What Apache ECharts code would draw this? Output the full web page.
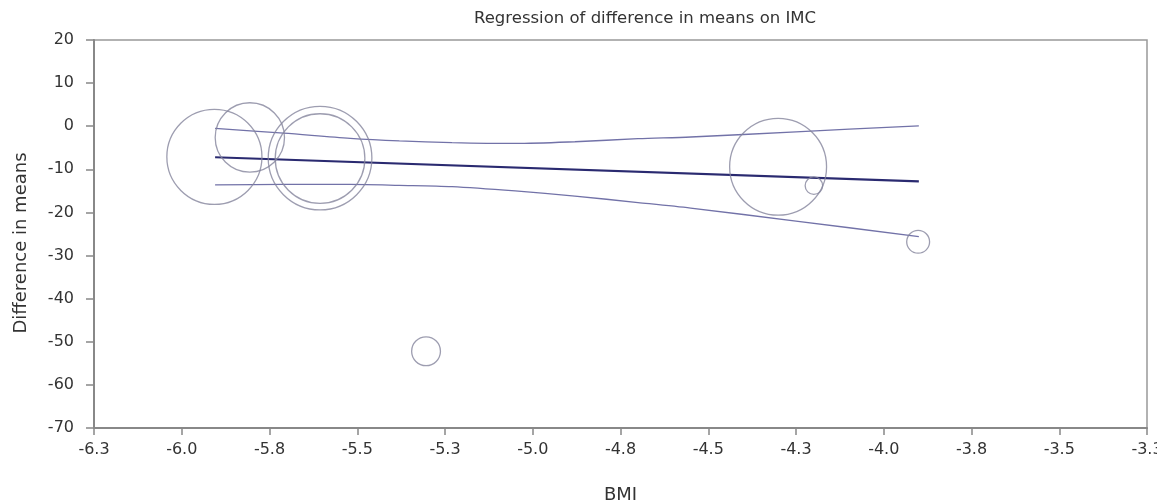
<!DOCTYPE html>
<html>
<head>
<meta charset="utf-8">
<script src="https://cdn.jsdelivr.net/npm/echarts@6/dist/echarts.min.js"></script>
<style>
  html, body { margin: 0; padding: 0; background: #fff; }
  #chart { width: 1157px; height: 504px; }
</style>
</head>
<body>
<div id="chart"></div>
<script>
// studies: BMI, difference in means, relative weight (%)
var studyBmi = [-5.907, -5.806, -5.606, -5.606, -5.304, -4.301, -4.199, -3.902];
var studyDiff = [-7.1, -2.6, -7.4, -7.5, -52.2, -9.4, -13.8, -26.8];
var studyWeight = [20.7, 11.0, 24.6, 18.4, 1.9, 21.5, 0.7, 1.2];

// regression line ends
var regBmi = [-5.905, -3.900];
var regDiff = [-7.2, -12.8];

// confidence band
var ciBmi = [-5.905, -5.71, -5.52, -5.38, -5.23, -5.05, -4.88, -4.70, -4.55, -4.25, -3.90];
var ciUpper = [-0.5, -1.6, -2.8, -3.4, -3.8, -4.0, -3.6, -2.9, -2.5, -1.3, 0.1];
var ciLower = [-13.6, -13.5, -13.5, -13.7, -14.0, -15.0, -16.2, -17.7, -19.0, -22.0, -25.6];

function pairs(xs, ys) {
  return xs.map(function (x, i) { return [x, ys[i]]; });
}

var chart = echarts.init(document.getElementById("chart"));
var font = "DejaVu Sans, Verdana, sans-serif";

var option = {
  animation: false,
  title: {
    text: "Regression of difference in means on IMC",
    left: 474,
    top: 10,
    padding: 0,
    textStyle: { fontFamily: font, fontSize: 16.5, fontWeight: "normal", color: "#333" }
  },
  grid: {
    left: 94, right: 10, top: 40, bottom: 76,
    outerBoundsMode: "none",
    containLabel: false,
    show: true, borderColor: "#999", borderWidth: 1.5, backgroundColor: "transparent"
  },
  xAxis: {
    type: "value",
    min: -6.25, max: -3.25, interval: 0.25,
    name: "BMI",
    nameLocation: "middle",
    nameGap: 58,
    nameTextStyle: { fontFamily: font, fontSize: 18, color: "#333" },
    axisLine: { onZero: false, lineStyle: { color: "#888", width: 2 } },
    axisTick: { show: true, length: 7, lineStyle: { color: "#888", width: 1.5 } },
    axisLabel: {
      margin: 14, fontFamily: font, fontSize: 16, color: "#333",
      formatter: function (v) { return v.toFixed(1); }
    },
    splitLine: { show: false }
  },
  yAxis: {
    type: "value",
    min: -70, max: 20, interval: 10,
    name: "Difference in means",
    nameLocation: "middle",
    nameGap: 64,
    nameTextStyle: { fontFamily: font, fontSize: 18, color: "#333", padding: [0, 18, 0, 0] },
    axisLine: { onZero: false, lineStyle: { color: "#888", width: 2 } },
    axisTick: { show: true, length: 8, lineStyle: { color: "#888", width: 1.5 } },
    axisLabel: { margin: 20, fontFamily: font, fontSize: 16, color: "#333" },
    splitLine: { show: false }
  },
  series: [
    {
      type: "line",
      data: pairs(ciBmi, ciUpper),
      showSymbol: false,
      smooth: 0.3,
      lineStyle: { color: "#7272a8", width: 1.3 },
      z: 2
    },
    {
      type: "line",
      data: pairs(ciBmi, ciLower),
      showSymbol: false,
      smooth: 0.3,
      lineStyle: { color: "#7272a8", width: 1.3 },
      z: 2
    },
    {
      type: "line",
      data: pairs(regBmi, regDiff),
      showSymbol: false,
      lineStyle: { color: "#2a2a70", width: 2.2 },
      z: 3
    },
    {
      type: "scatter",
      data: studyBmi.map(function (x, i) { return [x, studyDiff[i], studyWeight[i]]; }),
      symbol: "circle",
      symbolSize: function (d) { return 2 * 10.45 * Math.sqrt(d[2]); },
      itemStyle: { color: "transparent", borderColor: "#85859c", borderWidth: 1.3 },
      z: 4
    }
  ]
};

chart.setOption(option);
</script>
</body>
</html>
